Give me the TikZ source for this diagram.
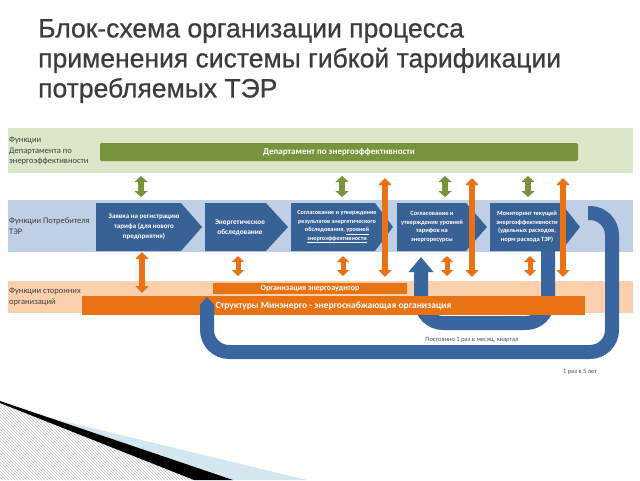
\documentclass[tikz,border=0pt]{standalone}
\usepackage{fontspec}
\setmainfont{Carlito}
\newfontfamily\titlefont[FakeBold=0.7]{Liberation Sans}
\usetikzlibrary{arrows.meta,patterns}
\definecolor{greenband}{RGB}{220,230,200}
\definecolor{greenbar}{RGB}{119,147,60}
\definecolor{blueband}{RGB}{190,207,230}
\definecolor{chevblue}{RGB}{56,98,150}
\definecolor{loopblue}{RGB}{58,102,160}
\definecolor{orangeband}{RGB}{251,208,172}
\definecolor{orangebar}{RGB}{232,114,20}
\definecolor{labelgray}{RGB}{64,64,64}
\definecolor{titlegray}{RGB}{60,60,60}
\definecolor{notecol}{RGB}{60,80,110}
\definecolor{decoblue}{RGB}{212,230,240}
\begin{document}
\begin{tikzpicture}[x=1pt,y=-1pt,
  bandlabel/.style={anchor=west,align=left,font=\fontsize{8.5}{10.5}\selectfont,text=labelgray,inner sep=0pt},
  chevtext/.style={align=center,text=white,font=\bfseries\fontsize{6.5}{8.5}\selectfont,inner sep=0pt},
  bartext/.style={text=white,font=\bfseries\fontsize{9}{10}\selectfont,inner sep=0pt},
  garrow/.style={draw=greenbar,line width=6pt,{Triangle[length=6pt,width=13pt]}-{Triangle[length=6pt,width=13pt]}},
  oarrow/.style={draw=orangebar,line width=5.5pt,{Triangle[length=7pt,width=13pt]}-{Triangle[length=7pt,width=13pt]}},
  osmall/.style={draw=orangebar,line width=5pt,{Triangle[length=6pt,width=12pt]}-{Triangle[length=6pt,width=12pt]}},
  loopline/.style={draw=loopblue,line width=14pt,rounded corners=22pt},
  note/.style={text=notecol,font=\fontsize{6.5}{8}\selectfont,inner sep=0pt}
]
\useasboundingbox[fill=white] (0,0) rectangle (640,480);

% decoration bottom left
\fill[pattern=north west lines, pattern color=gray!50] (0,403) -- (194,480) -- (0,480) -- cycle;
\fill[decoblue] (30,413) -- (307,480) -- (233,480) -- cycle;
\fill[black] (0,401) -- (233,480) -- (194,480) -- (0,403) -- cycle;

% title
\node[anchor=north west, align=left, inner sep=0pt, text=titlegray,
      font=\titlefont\fontsize{26.5}{30}\selectfont] (title) at (38,19)
  {Блок-схема организации процесса\\применения системы гибкой тарификации\\потребляемых ТЭР};

% bands
\fill[greenband] (8,128) rectangle (633,173);
\fill[blueband] (8,200) rectangle (633,252);
\fill[orangeband] (8,281) rectangle (633,313);

\node[bandlabel] (lab1) at (9,151) {Функции\\Департамента по\\энергоэффективности};
\node[bandlabel] (lab2) at (9,226) {Функции Потребителя\\ТЭР};
\node[bandlabel] (lab3) at (9,297) {Функции сторонних\\организаций};

% department bar
\node[fill=greenbar, rounded corners=2pt, minimum width=478pt, minimum height=18pt,
      bartext, font=\bfseries\fontsize{9}{10}\selectfont] (dep) at (339,152) {Департамент по энергоэффективности};

% inner loop (behind orange bars)
\coordinate (u1) at (548,240);
\coordinate (u2) at (421,257);
\draw[loopline,-{Triangle[length=15pt,width=24pt]}] (u1) -- (548,323) -- (421,323) -- (u2);

% orange bars
\node[fill=orangebar, minimum width=194pt, minimum height=11pt, bartext,
      font=\bfseries\fontsize{8}{8}\selectfont] (aud) at (310,288.5) {Организация энергоаудитор};
\node[fill=orangebar, minimum width=503pt, minimum height=19pt, bartext,
      font=\bfseries\fontsize{9.5}{10}\selectfont] (mine) at (333.5,305.5) {Структуры Минэнерго - энергоснабжающая организация};

% outer loop
\coordinate (o1) at (588,213);
\coordinate (o2) at (207,297);
\draw[loopline,-{Triangle[length=8pt,width=14pt]}] (o1) -- (612,213) -- (612,352) -- (207,352) -- (o2);

% chevrons
\fill[chevblue] (96,203) -- (181,203) -- (202,227) -- (181,251) -- (96,251) -- cycle;
\fill[chevblue] (205,203) -- (266,203) -- (288,227) -- (266,251) -- (205,251) -- cycle;
\fill[chevblue] (291,203) -- (375,203) -- (393,227) -- (375,251) -- (291,251) -- cycle;
\fill[chevblue] (397,203) -- (466,203) -- (487,227) -- (466,251) -- (397,251) -- cycle;
\fill[chevblue] (490,203) -- (561,203) -- (580,227) -- (561,251) -- (490,251) -- cycle;

\node[chevtext, font=\bfseries\fontsize{7}{10}\selectfont] (c1) at (144,227) {Заявка на регистрацию\\тарифа (для нового\\предприятия)};
\node[chevtext, font=\bfseries\fontsize{7.3}{9.5}\selectfont] (c2) at (240,227.5) {Энергетическое\\обследование};
\node[chevtext, font=\bfseries\fontsize{6.2}{8.4}\selectfont] (c3) at (337,227) {Согласование и утверждение\\результатов энергетического\\обследования, \underline{уровней}\\\underline{энергоэффективности}};
\node[chevtext, font=\bfseries\fontsize{6.4}{8.6}\selectfont] (c4) at (432,227) {Согласование и\\утверждение уровней\\тарифов на\\энергоресурсы};
\node[chevtext, font=\bfseries\fontsize{6.4}{8.6}\selectfont] (c5) at (527,227) {Мониторинг текущей\\энергоэффективности\\(удельных расходов,\\норм расхода ТЭР)};

% green arrows
\foreach \x/\n in {141/a,342/b,445/c,528/d}{
  \coordinate (g\n t) at (\x,176); \coordinate (g\n b) at (\x,197);
  \draw[garrow] (g\n t) -- (g\n b);
}
% tall orange arrows
\foreach \x/\n in {385/a,472/b,563/c}{
  \coordinate (t\n t) at (\x,178); \coordinate (t\n b) at (\x,277);
  \draw[oarrow] (t\n t) -- (t\n b);
}
% small orange arrows
\coordinate (s0t) at (142,252); \coordinate (s0b) at (142,293);
\draw[oarrow] (s0t) -- (s0b);
\foreach \x/\n in {238/a,343/b,447/c,530/d}{
  \coordinate (s\n t) at (\x,256); \coordinate (s\n b) at (\x,276);
  \draw[osmall] (s\n t) -- (s\n b);
}

% notes
\node[note] (n1) at (472,340) {Постоянно 1 раз в месяц, квартал};
\node[note] (n2) at (580,372) {1 раз в 5 лет};
\end{tikzpicture}
\end{document}
